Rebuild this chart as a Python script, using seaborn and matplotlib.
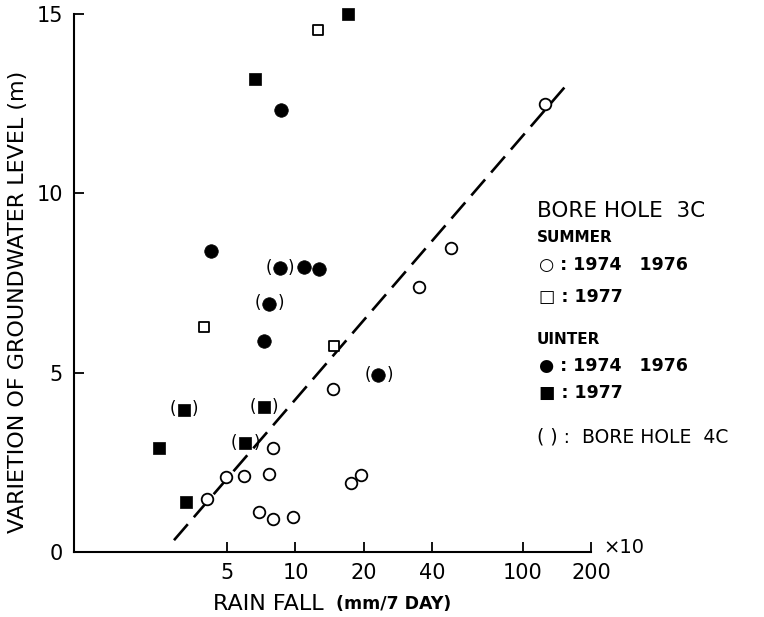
import numpy as np
import pandas as pd
import matplotlib
matplotlib.use("Agg")
import matplotlib.pyplot as plt
import seaborn as sns

# summer 1974/1976 (open circles)
summer_7476_x = [126, 48.4, 35.0, 14.6, 8.0, 4.95, 5.94, 7.67, 4.07, 6.91, 8.0, 9.73, 17.5, 19.4]
summer_7476_y = [12.49, 8.47, 7.38, 4.54, 2.89, 2.10, 2.13, 2.17, 1.47, 1.12, 0.93, 0.98, 1.92, 2.15]
# summer 1977 (open squares)
summer_77_x = [12.6, 3.96, 14.8]
summer_77_y = [14.55, 6.28, 5.75]
# winter 1974/1976 (filled circles), bh4c = bore hole 4C
winter_7476_x = [8.64, 4.24, 8.56, 10.9, 12.7, 7.67, 7.25, 23.2]
winter_7476_y = [12.32, 8.39, 7.91, 7.94, 7.90, 6.91, 5.88, 4.93]
winter_7476_bh4c = [False, False, True, False, False, True, False, True]
# winter 1977 (filled squares)
winter_77_x = [17.0, 6.64, 3.22, 7.25, 2.5, 6.02, 3.3]
winter_77_y = [15.0, 13.2, 3.96, 4.03, 2.89, 3.03, 1.39]
winter_77_bh4c = [False, False, True, True, False, True, False]

# dashed regression line end points
line_x = [2.92, 160.5]
line_y = [0.33, 13.11]

x_ticks = [5, 10, 20, 40, 100, 200]
y_ticks = [0, 5, 10, 15]

df = pd.concat([
    pd.DataFrame({"rain": summer_7476_x, "level": summer_7476_y, "group": "s7476", "bh4c": False}),
    pd.DataFrame({"rain": summer_77_x, "level": summer_77_y, "group": "s77", "bh4c": False}),
    pd.DataFrame({"rain": winter_7476_x, "level": winter_7476_y, "group": "w7476", "bh4c": winter_7476_bh4c}),
    pd.DataFrame({"rain": winter_77_x, "level": winter_77_y, "group": "w77", "bh4c": winter_77_bh4c}),
], ignore_index=True)

sns.set_style("ticks", {"axes.edgecolor": "black", "text.color": "black",
                        "xtick.color": "black", "ytick.color": "black",
                        "axes.labelcolor": "black"})
plt.rcParams["font.family"] = ["DejaVu Sans"]

fig = plt.figure(figsize=(7.64, 6.17), dpi=100)
ax = fig.add_axes([0.0969, 0.1053, 0.6767, 0.872])

styles = {
    "s7476": dict(marker="o", s=70, facecolor="white", edgecolor="black", linewidth=1.3),
    "s77": dict(marker="s", s=60, facecolor="white", edgecolor="black", linewidth=1.3),
    "w7476": dict(marker="o", s=95, facecolor="black", edgecolor="black", linewidth=0.5),
    "w77": dict(marker="s", s=80, facecolor="black", edgecolor="black", linewidth=0.5),
}
for g, kw in styles.items():
    sns.scatterplot(data=df[df["group"] == g], x="rain", y="level", ax=ax,
                    legend=False, clip_on=False, zorder=3, **kw)

# parentheses mark the bore hole 4C points
for _, r in df[df["bh4c"]].iterrows():
    for sym, dx in [("(", -8), (")", 8)]:
        ax.annotate(sym, xy=(r["rain"], r["level"]), xytext=(dx, 0.5),
                    textcoords="offset points", ha="center", va="center",
                    fontsize=12, zorder=4)

sns.lineplot(x=line_x, y=line_y, ax=ax, color="black", linewidth=1.9,
             dashes=False, linestyle=(0, (8, 3.5)))

ax.set_xscale("log")
ax.set_xlim(1.06, 200)
ax.set_ylim(0, 15)
ax.set_xticks(x_ticks)
ax.set_xticklabels([str(t) for t in x_ticks])
ax.xaxis.set_minor_locator(matplotlib.ticker.NullLocator())
ax.set_yticks(y_ticks)
ax.set_yticklabels([str(t) for t in y_ticks])
ax.tick_params(direction="in", length=7, width=1.3, labelsize=15, pad=8)
for side in ["top", "right"]:
    ax.spines[side].set_visible(False)
for side in ["left", "bottom"]:
    ax.spines[side].set_linewidth(1.5)
ax.set_xlabel("")
ax.set_ylabel("")

fig.text(0.024, 0.51, "VARIETION OF GROUNDWATER LEVEL (m)", rotation=90,
         ha="center", va="center", fontsize=16)
fig.text(0.279, 0.021, "RAIN FALL", ha="left", va="center", fontsize=16)
fig.text(0.44, 0.021, "(mm/7 DAY)", ha="left", va="center",
         fontsize=12.5, fontweight="bold")
fig.text(0.79, 0.113, "×10", ha="left", va="center", fontsize=14)

lx = 0.703
fig.text(lx, 1 - 211 / 617, "BORE HOLE  3C", fontsize=15.5, va="center")
fig.text(lx, 1 - 237 / 617, "SUMMER", fontsize=11, fontweight="bold", va="center")
fig.text(lx + 0.003, 1 - 265 / 617, "○ : 1974   1976", fontsize=12.5, fontweight="bold", va="center")
fig.text(lx + 0.003, 1 - 297 / 617, "□ : 1977", fontsize=12.5, fontweight="bold", va="center")
fig.text(lx, 1 - 339 / 617, "UINTER", fontsize=11, fontweight="bold", va="center")
fig.text(lx + 0.003, 1 - 366 / 617, "● : 1974   1976", fontsize=12.5, fontweight="bold", va="center")
fig.text(lx + 0.003, 1 - 393 / 617, "■ : 1977", fontsize=12.5, fontweight="bold", va="center")
fig.text(lx, 1 - 437 / 617, "( ) :  BORE HOLE  4C", fontsize=13.5, va="center")

fig.savefig("out.png", dpi=100, facecolor="white")
